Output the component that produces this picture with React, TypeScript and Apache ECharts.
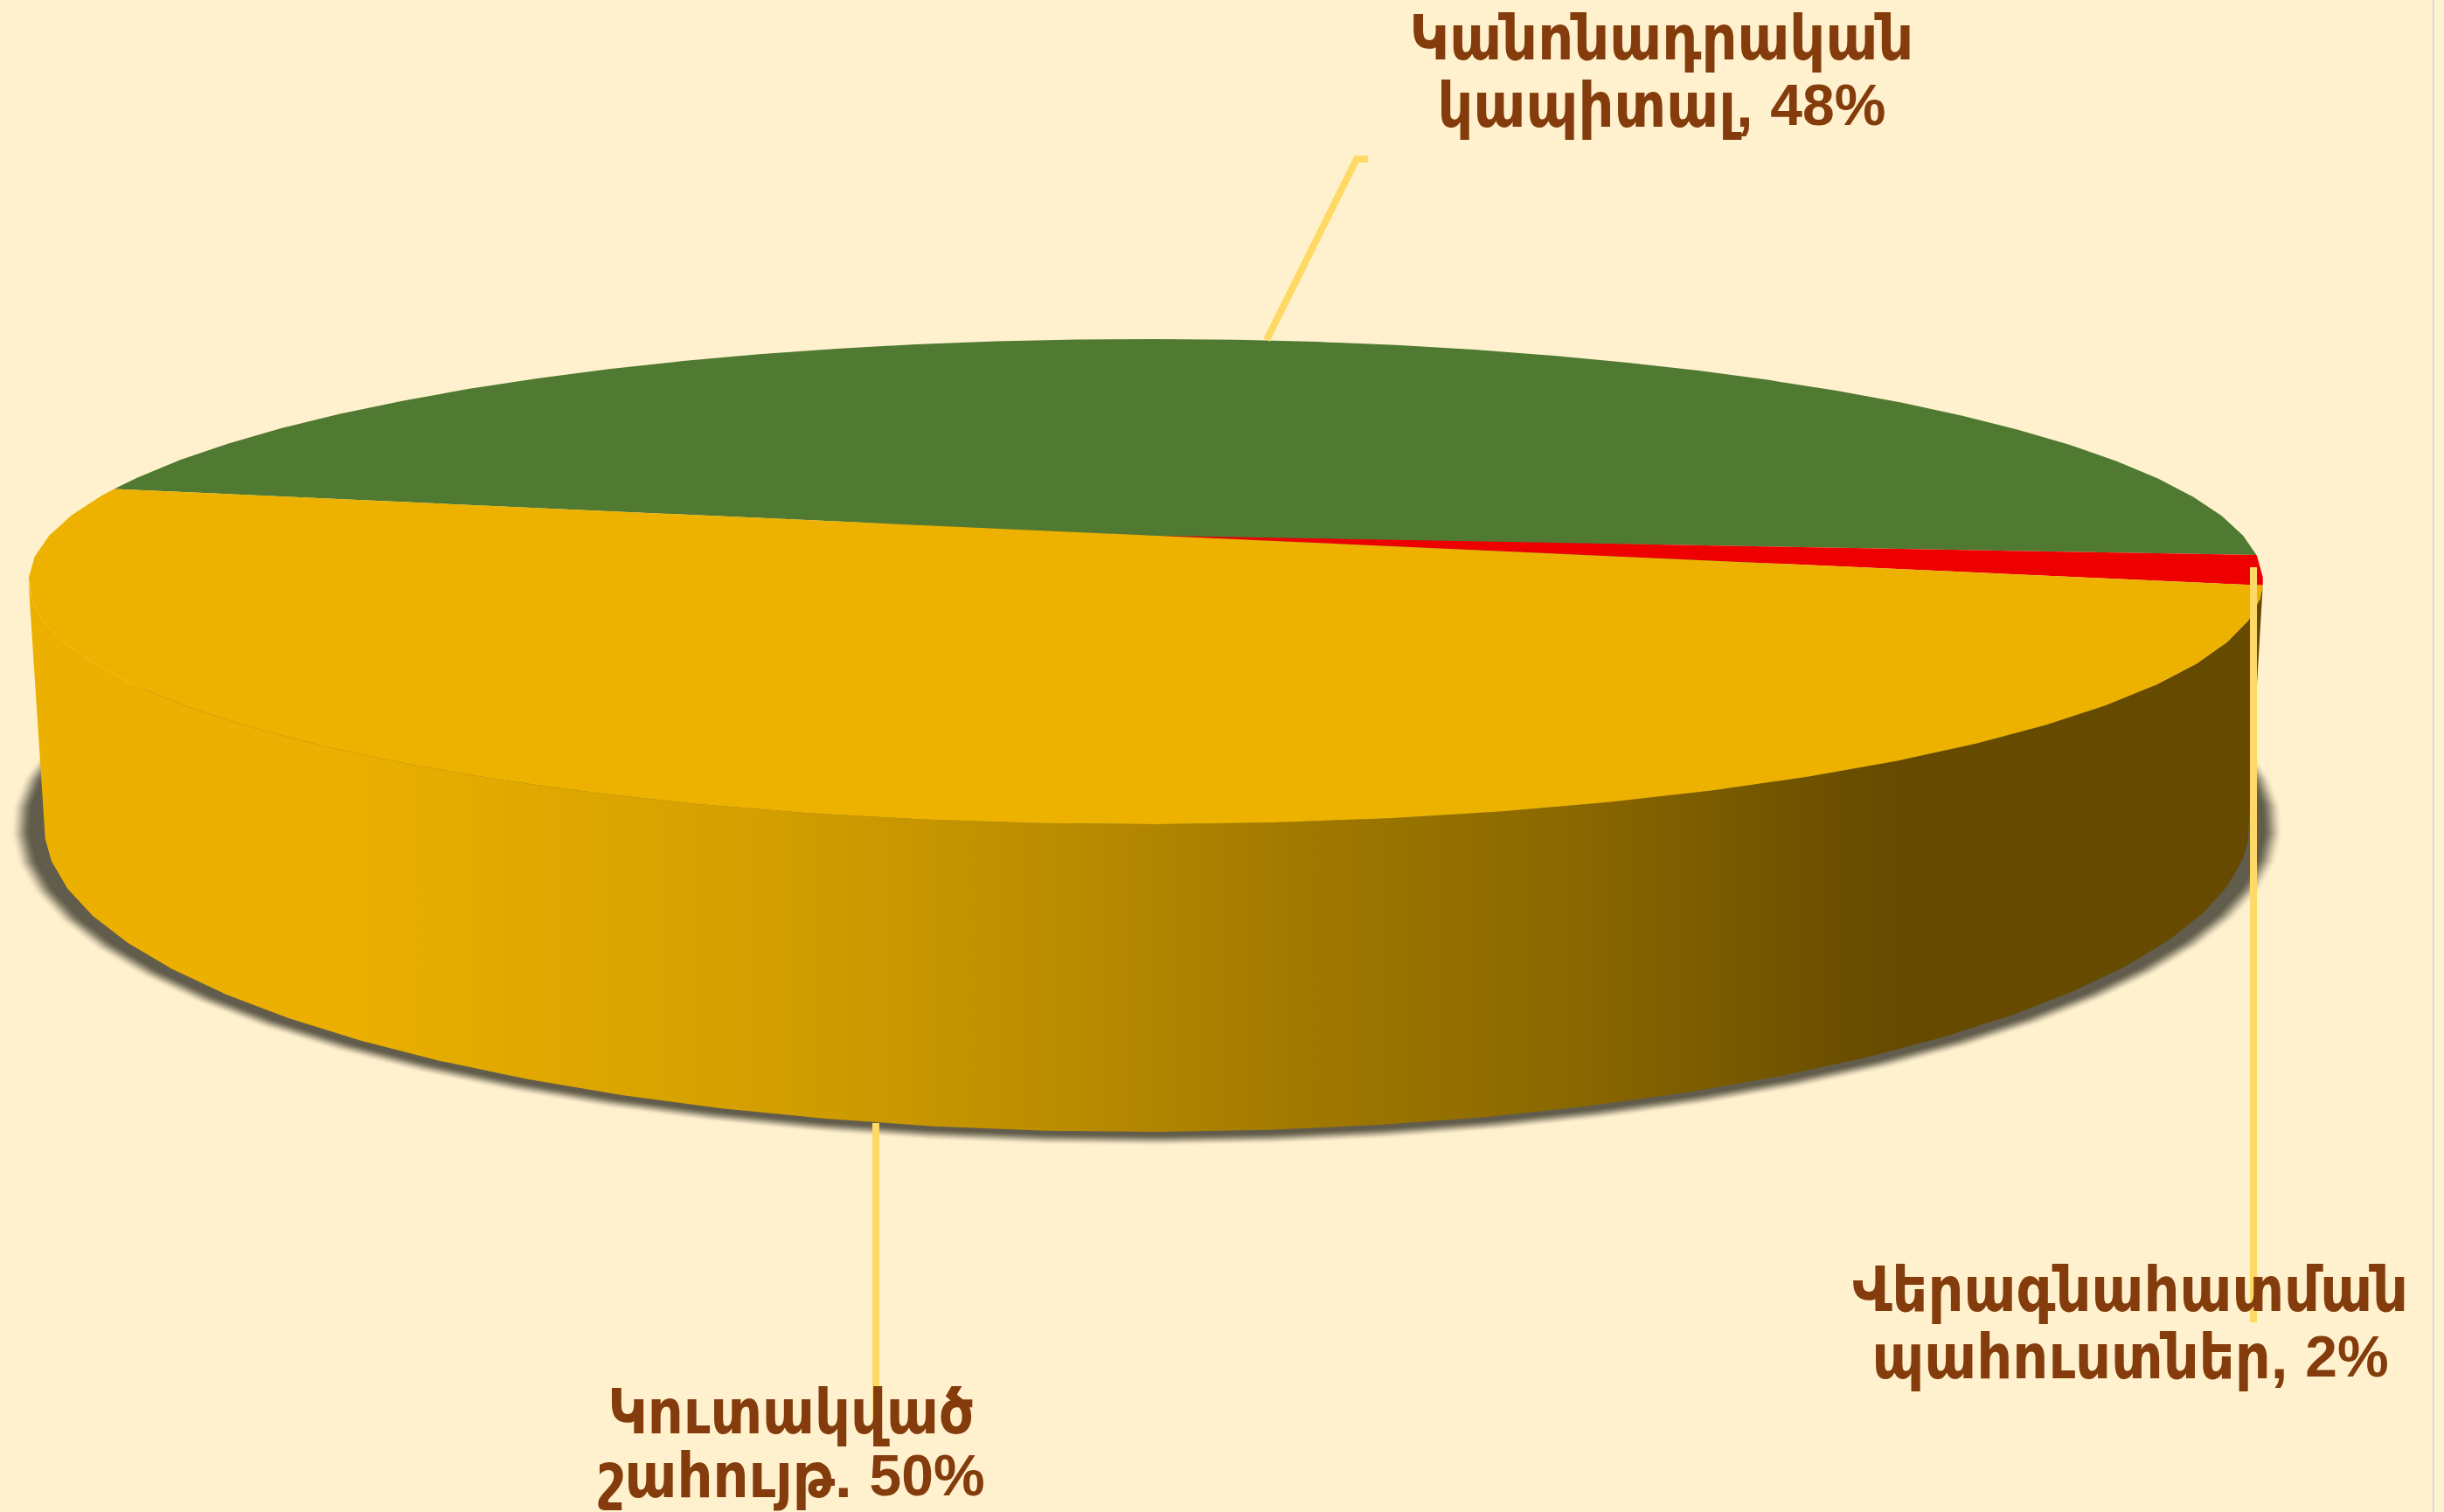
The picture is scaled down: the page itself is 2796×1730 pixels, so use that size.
import React, { useEffect, useRef } from "react";
import * as echarts from "echarts";

const categoryLines = [
  ["Կանոնադրական", "կապիտալ, "],
  ["Վերագնահատման", "պահուստներ, "],
  ["Կուտակված", "շահույթ. "],
];
const values = [48, 2, 50];
const sliceColors = ["#507A32", "#EE0000", "#EDB200"];

const BG = "#FFF1CE";
const STRIP = "#FFF4D2";
const EDGE = "#D8D8D8";
const TEXT = "#843C0C";
const LEADER = "#FFD966";
const FAMILY = "'Liberation Sans','DejaVu Sans Condensed','DejaVu Sans',sans-serif";

// perspective of the disc
const START_DEG = 191.9;
const TOP = { x: 1323, y: 613, a: 1255, b: 267.6, k: 0.189, m: 0.0094, q: 0 };
const BASE = { x: 1324, y: 892, a: 1247, b: 342.6, k: 0.15, m: 0.0094, q: 0 };
const SIDE_FROM = 11.9;
const SIDE_TO = 169;
const SHADOW_CENTER = [1312, 915];

const leaders = [
  [[1449, 389], [1552, 182], [1565, 182]],
  [[2578, 649], [2578, 1513]],
  [[1002, 1285], [1002, 1623]],
];
const labelPos = [
  { x: 1901, base: [67, 144] },
  { x: 2437, base: [1499, 1576] },
  { x: 905, base: [1639, 1712] },
];

type P = typeof TOP;
const pt = (p: P, deg: number): number[] => {
  const t = (deg * Math.PI) / 180;
  const c = Math.cos(t);
  const s = Math.sin(t);
  const d = 1 - p.k * s + p.m * c;
  return [p.x + (p.a * c) / d, p.y + (p.b * s + p.q * c) / d];
};
const arc = (p: P, from: number, to: number): number[][] => {
  const out: number[][] = [pt(p, from)];
  const dir = to > from ? 1 : -1;
  let a = dir > 0 ? Math.floor(from / 5) * 5 + 5 : Math.ceil(from / 5) * 5 - 5;
  while (dir > 0 ? a < to : a > to) {
    out.push(pt(p, a));
    a += 5 * dir;
  }
  out.push(pt(p, to));
  return out;
};

const mix = (a: number[], b: number[], t: number) =>
  `rgb(${a.map((v, i) => Math.round(v + (b[i] - v) * t)).join(",")})`;

const sideGradient = () =>
  new echarts.graphic.LinearGradient(
    0, 0, 2796, 0,
    [
      { offset: 0, color: "#EBB000" },
      { offset: 400 / 2796, color: "#EAAF00" },
      { offset: 900 / 2796, color: "#D29E00" },
      { offset: 1216 / 2796, color: "#BA8C00" },
      { offset: 1500 / 2796, color: "#A07800" },
      { offset: 1800 / 2796, color: "#8A6800" },
      { offset: 2172 / 2796, color: "#654A00" },
      { offset: 1, color: "#654A00" },
    ],
    true
  );

export default function App() {
  const ref = useRef<HTMLDivElement>(null);
  useEffect(() => {
    const chart = echarts.init(ref.current!, null, { renderer: "svg" });
    const total = values.reduce((a, b) => a + b, 0);
    const startOf = (i: number) =>
      START_DEG + (values.slice(0, i).reduce((a, b) => a + b, 0) / total) * 360;

    const bodySeries = {
      type: "custom",
      coordinateSystem: "none",
      silent: true,
      data: [0],
      renderItem: () => {
        const base = [...arc(BASE, 0, 360)];
        const layers = [];
        const N = 22;
        for (let i = 0; i < N; i++) {
          const t = i / (N - 1);
          const ex = 40 - 24 * t;
          const ey = 17 - 14 * t;
          const sx = 1 + ex / 1263;
          const sy = 1 + ey / 380;
          layers.push({
            type: "polygon",
            shape: {
              points: base.map(([x, y]) => [
                SHADOW_CENTER[0] + (x - SHADOW_CENTER[0]) * sx,
                SHADOW_CENTER[1] + (y - SHADOW_CENTER[1]) * sy,
              ]),
            },
            style: { fill: mix([255, 241, 206], [97, 92, 75], t * t * (3 - 2 * t)) },
          });
        }
        const hull = [
          ...arc(TOP, SIDE_FROM, SIDE_TO),
          ...arc(BASE, SIDE_TO, SIDE_FROM),
        ];
        return {
          type: "group",
          children: [
            ...layers,
            { type: "polygon", shape: { points: hull }, style: { fill: sideGradient() } },
          ],
        };
      },
    };

    const sliceSeries = {
      type: "custom",
      coordinateSystem: "none",
      silent: true,
      data: values.map((v, i) => ({ value: v, name: categoryLines[i].join(""), itemStyle: { color: sliceColors[i] } })),
      renderItem: (params: any, api: any) => {
        const i = params.dataIndex;
        const v = api.value(0);
        const from = startOf(i);
        const to = from + (v / total) * 360;
        return {
          type: "polygon",
          shape: { points: [[TOP.x, TOP.y], ...arc(TOP, from, to)] },
          style: { fill: sliceColors[i] },
        };
      },
    };

    const rich = {
      a: { font: `bold 71px ${FAMILY}`, fill: TEXT, lineHeight: 66 },
      b: { font: `bold 66px ${FAMILY}`, fill: TEXT, lineHeight: 66 },
    };
    const labelSeries = {
      type: "custom",
      coordinateSystem: "none",
      silent: true,
      data: values,
      renderItem: (params: any, api: any) => {
        const i = params.dataIndex;
        const v = api.value(0);
        const lines = [`{a|${categoryLines[i][0]}}`, `{a|${categoryLines[i][1]}}{b|${v}%}`];
        const lp = labelPos[i];
        return {
          type: "group",
          children: [
            {
              type: "polyline",
              shape: { points: leaders[i] },
              style: { stroke: LEADER, lineWidth: 8, fill: "none" },
            },
            ...lines.map((t, j) => ({
              type: "text",
              x: lp.x,
              y: lp.base[j] - 24,
              style: { text: t, rich, fill: TEXT, align: "center", verticalAlign: "middle" },
            })),
          ],
        };
      },
    };

    chart.setOption({
      animation: false,
      backgroundColor: BG,
      graphic: [
        { type: "rect", z: -1, shape: { x: 2785, y: 0, width: 11, height: 1730 }, style: { fill: STRIP }, silent: true },
        { type: "rect", z: -1, shape: { x: 2783, y: 0, width: 2, height: 1730 }, style: { fill: EDGE }, silent: true },
      ],
      series: [bodySeries, sliceSeries, labelSeries],
    });
    return () => chart.dispose();
  }, []);
  return (
    <div
      ref={ref}
      style={{ position: "fixed", left: 0, top: 0, width: 2796, height: 1730 }}
    />
  );
}
